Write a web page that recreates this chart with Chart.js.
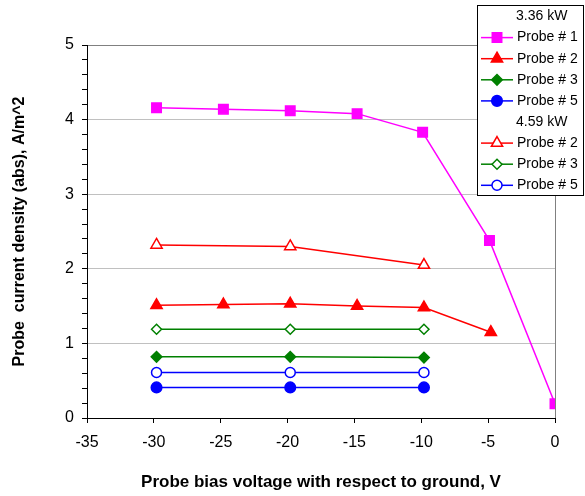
<!DOCTYPE html>
<html>
<head>
<meta charset="utf-8">
<script src="https://cdn.jsdelivr.net/npm/chart.js@4.4.0/dist/chart.umd.min.js"></script>
<style>
  html, body { margin: 0; padding: 0; background: #fff; }
  #wrap { width: 585px; height: 496px; }
</style>
</head>
<body>
<div id="wrap"><canvas id="chart"></canvas></div>
<script>
'use strict';

// ── DATA ──────────────────────────────────────────────────────────
const X_P1_336 = [-29.8, -24.8, -19.8, -14.8, -9.9, -4.9, 0];
const Y_P1_336 = [4.16, 4.14, 4.12, 4.08, 3.83, 2.38, 0.19];
const X_P2_336 = [-29.8, -24.8, -19.8, -14.8, -9.8, -4.8];
const Y_P2_336 = [1.51, 1.52, 1.53, 1.50, 1.48, 1.15];
const X_3PT    = [-29.8, -19.8, -9.8];
const Y_P3_336 = [0.82, 0.82, 0.81];
const Y_P5_336 = [0.41, 0.41, 0.41];
const Y_P2_459 = [2.32, 2.30, 2.05];
const Y_P3_459 = [1.19, 1.19, 1.19];
const Y_P5_459 = [0.61, 0.61, 0.61];

const LEGEND_GROUPS = ['3.36 kW', '4.59 kW'];
const X_RANGE = [-35, 0];
const X_STEP  = 5;
const Y_RANGE = [0, 5];
const Y_MINOR = 0.2;

const FONT = '"Liberation Sans", Arial, sans-serif';

const toPts = (xs, ys) => xs.map((x, i) => ({ x, y: ys[i] }));
const isMajor = v => Math.abs(v - Math.round(v)) < 1e-6;

function series(label, group, color, style, r, open, xs, ys) {
  return {
    label, group,
    data: toPts(xs, ys),
    showLine: true,
    borderColor: color,
    borderWidth: 1.5,
    pointStyle: style,
    pointRadius: r,
    pointHoverRadius: r,
    pointBorderColor: color,
    pointBackgroundColor: open ? '#ffffff' : color,
    pointBorderWidth: 1.5
  };
}

const datasets = [
  series('Probe # 1', '3.36 kW', '#ff00ff', 'rect',     6.7, false, X_P1_336, Y_P1_336),
  series('Probe # 2', '3.36 kW', '#ff0000', 'triangle', 6.5, false, X_P2_336, Y_P2_336),
  series('Probe # 3', '3.36 kW', '#008000', 'rectRot',  5.3, false, X_3PT,    Y_P3_336),
  series('Probe # 5', '3.36 kW', '#0000ff', 'circle',   5.3, false, X_3PT,    Y_P5_336),
  series('Probe # 2', '4.59 kW', '#ff0000', 'triangle', 6.5, true,  X_3PT,    Y_P2_459),
  series('Probe # 3', '4.59 kW', '#008000', 'rectRot',  5.0, true,  X_3PT,    Y_P3_459),
  series('Probe # 5', '4.59 kW', '#0000ff', 'circle',   5.0, true,  X_3PT,    Y_P5_459)
];

// ── BOXED LEGEND (Excel style, with group headers) ───────────────
const boxLegend = {
  id: 'boxLegend',
  afterDraw(chart) {
    const ctx = chart.ctx;
    const bx = 477, by = 5, bw = 106, bh = 190, row = 21.1;
    ctx.save();
    ctx.fillStyle = '#fff';
    ctx.fillRect(bx, by, bw, bh);
    ctx.strokeStyle = '#000';
    ctx.lineWidth = 1;
    ctx.strokeRect(bx + 0.5, by + 0.5, bw, bh);
    ctx.font = '14px ' + FONT;
    ctx.textBaseline = 'middle';
    let y = 16.5;
    LEGEND_GROUPS.forEach(g => {
      ctx.fillStyle = '#000';
      ctx.fillText(g, 516, y);
      y += row;
      chart.data.datasets.filter(d => d.group === g).forEach(d => {
        ctx.strokeStyle = d.borderColor;
        ctx.lineWidth = 1.5;
        ctx.beginPath();
        ctx.moveTo(481, y);
        ctx.lineTo(513, y);
        ctx.stroke();
        ctx.fillStyle = d.pointBackgroundColor;
        ctx.strokeStyle = d.pointBorderColor;
        Chart.helpers.drawPoint(ctx, { pointStyle: d.pointStyle, radius: d.pointRadius, borderWidth: 1.5 }, 497, y);
        ctx.fillStyle = '#000';
        ctx.fillText(d.label, 517, y);
        y += row;
      });
    });
    ctx.restore();
  }
};

new Chart(document.getElementById('chart'), {
  type: 'scatter',
  data: { datasets },
  options: {
    responsive: true,
    maintainAspectRatio: false,
    animation: false,
    layout: { padding: { top: 45, right: 30, left: 0, bottom: 0 } },
    plugins: { legend: { display: false }, tooltip: { enabled: false } },
    scales: {
      x: {
        type: 'linear',
        min: X_RANGE[0], max: X_RANGE[1],
        afterFit: s => { s.height = 78; },
        border: { color: '#000', width: 1 },
        grid: {
          color: c => (c.tick.value === X_RANGE[1] ? '#808080' : 'rgba(0,0,0,0)'),
          tickColor: '#000',
          tickLength: 5
        },
        ticks: { stepSize: X_STEP, color: '#000', font: { family: FONT, size: 16 }, padding: 10, maxRotation: 0 },
        title: {
          display: true,
          text: 'Probe bias voltage with respect to ground, V',
          color: '#000',
          font: { family: FONT, size: 17, weight: 'bold' },
          padding: { top: 0, bottom: 3 }
        }
      },
      y: {
        type: 'linear',
        min: Y_RANGE[0], max: Y_RANGE[1],
        afterFit: s => { s.width = 87; },
        border: { color: '#000', width: 1 },
        grid: {
          color: c => {
            const v = c.tick.value;
            if (!isMajor(v) || v === 0) return 'rgba(0,0,0,0)';
            return v === Y_RANGE[1] ? '#808080' : '#c0c0c0';
          },
          tickColor: '#000',
          tickLength: 5
        },
        ticks: {
          stepSize: Y_MINOR,
          autoSkip: false,
          color: '#000',
          font: { family: FONT, size: 16 },
          padding: 8,
          callback: v => (isMajor(v) ? String(Math.round(v)) : '')
        },
        title: {
          display: true,
          text: 'Probe  current density (abs), A/m^2',
          color: '#000',
          font: { family: FONT, size: 16, weight: 'bold' },
          padding: { top: 10, bottom: 0 }
        }
      }
    }
  },
  plugins: [boxLegend]
});
</script>
</body>
</html>
